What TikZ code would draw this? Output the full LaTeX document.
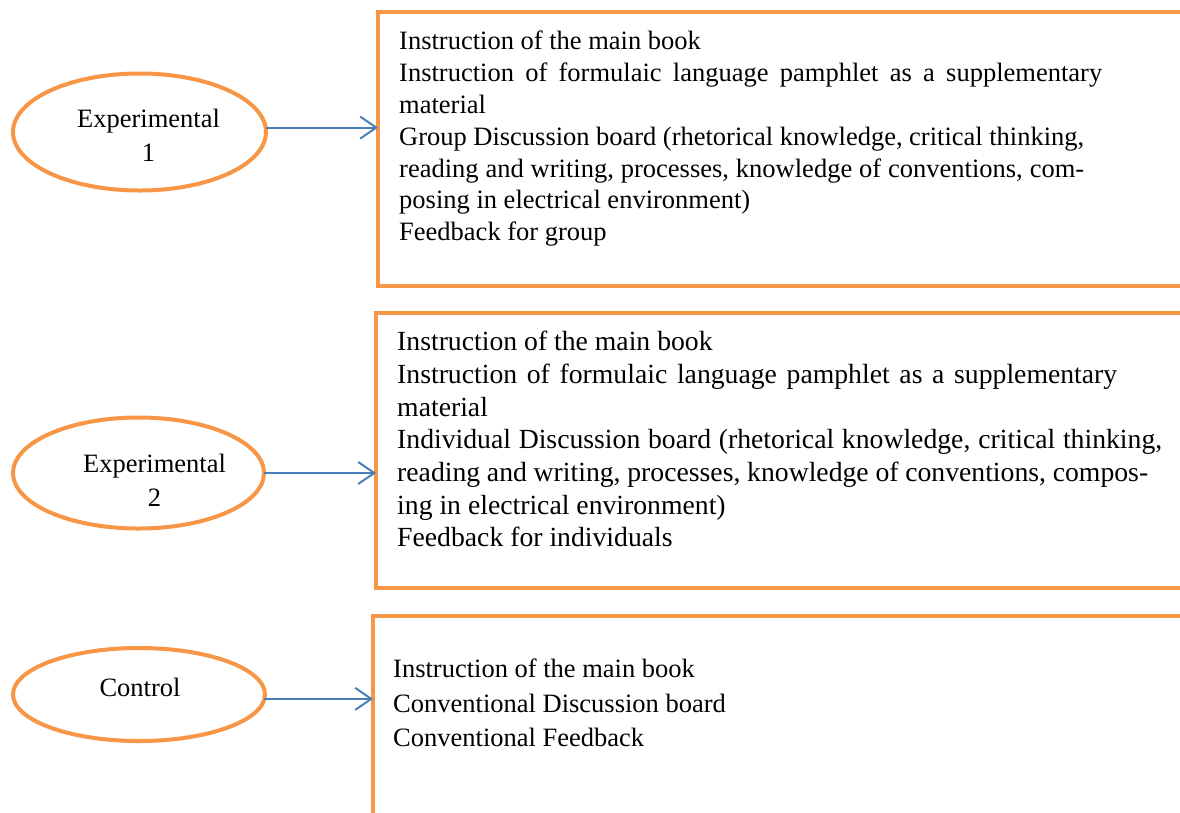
\documentclass[tikz,border=0pt]{standalone}
\usepackage{fontspec}
\setmainfont{Liberation Serif}
\usetikzlibrary{arrows.meta,shapes.geometric}
\definecolor{borange}{HTML}{F79646}
\definecolor{ablue}{HTML}{4A7EBB}
\begin{document}
\begin{tikzpicture}[x=1pt,y=-1pt,
  grp/.style={ellipse,draw=borange,line width=4pt,inner sep=0pt,outer sep=0pt},
  box/.style={rectangle,draw=borange,line width=4pt,inner sep=0pt,outer sep=0pt,anchor=north west,minimum width=900pt},
  lbl/.style={align=center,inner sep=0pt,font=\fontsize{26.5}{34}\selectfont},
  items/.style={align=left,inner sep=0pt,anchor=north west},
  conn/.style={draw=ablue,line width=2pt,-{Straight Barb[length=16pt,width=22pt]}}]
\useasboundingbox (0,0) rectangle (1180,812);
\clip (0,0) rectangle (1180,812);
\fill[white] (0,0) rectangle (1180,812);

% boxes
\node[box,minimum height=274pt] (b1) at (378,12) {};
\node[box,minimum height=275pt] (b2) at (376,313) {};
\node[box,minimum height=300pt] (b3) at (373,616) {};

% box texts
\node[items,font=\fontsize{26.5}{31.8}\selectfont] (x1) at (399,31) {Instruction of the main book\\
\makebox[703pt][s]{Instruction of formulaic language pamphlet as a supplementary}\\
material\\
\makebox[685pt][s]{Group Discussion board (rhetorical knowledge, critical thinking,}\\
\makebox[685pt][s]{reading and writing, processes, knowledge of conventions, com-}\\
posing in electrical environment)\\
Feedback for group};
\node[items,font=\fontsize{27.7}{32.7}\selectfont] (x2) at (397,331) {Instruction of the main book\\
\makebox[720pt][s]{Instruction of formulaic language pamphlet as a supplementary}\\
material\\
\makebox[765pt][s]{Individual Discussion board (rhetorical knowledge, critical thinking,}\\
\makebox[751pt][s]{reading and writing, processes, knowledge of conventions, compos-}\\
ing in electrical environment)\\
Feedback for individuals};
\node[items,font=\fontsize{26.5}{34.5}\selectfont] (x3) at (393,659) {Instruction of the main book\\
Conventional Discussion board\\
Conventional Feedback};

% ellipses
\node[grp,minimum width=253pt,minimum height=117pt] (e1) at (139.5,132) {};
\node[grp,minimum width=251pt,minimum height=111pt] (e2) at (138.5,473) {};
\node[grp,minimum width=252pt,minimum height=93pt] (e3) at (139,694.5) {};

\node[lbl] (t1) at (148.5,135) {Experimental\\1};
\node[lbl] (t2) at (154.5,480) {Experimental\\2};
\node[lbl] (t3) at (140,687) {Control};

% connectors
\draw[conn] (e1.2) -- (e1.2 -| b1.west);
\draw[conn] (e2.east) -- (e2.east -| b2.west);
\draw[conn] (e3.-2) -- (e3.-2 -| b3.west);
\end{tikzpicture}
\end{document}
